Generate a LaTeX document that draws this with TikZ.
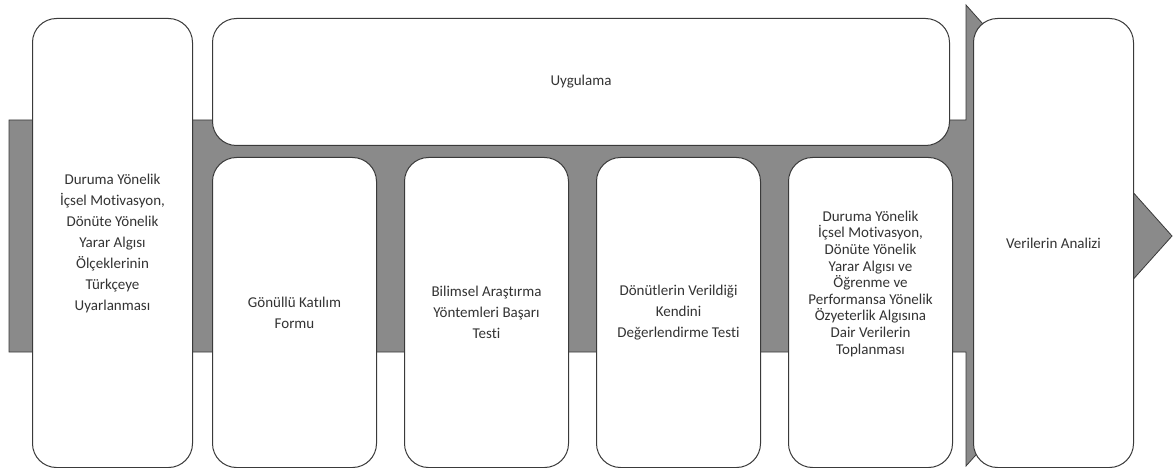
\documentclass[tikz,border=0pt]{standalone}
\usepackage{fontspec}
\setmainfont{Carlito}[Ligatures={NoCommon}]
\usepackage{tikz}
\usetikzlibrary{positioning}
\definecolor{bandgray}{HTML}{8A8A8A}
\definecolor{txtgray}{HTML}{333333}
\definecolor{edgegray}{HTML}{3A3A3A}

\begin{document}
\begin{tikzpicture}[x=1pt, y=-1pt,
  box/.style={rectangle, draw=edgegray, fill=white, line width=1pt, rounded corners=24pt, align=center, text=txtgray, inner sep=2pt, font=\fontsize{15}{21}\selectfont},
  tallbox/.style={box, minimum width=160pt, minimum height=449pt},
  stagebox/.style={box, minimum width=164pt, minimum height=310pt},
]
\useasboundingbox (0,0) rectangle (1173,468);

% Band with arrow head
\draw[draw=edgegray, fill=bandgray, line width=0.8pt] (9,120) -- (966,120) -- (966,5) -- (1172,236) -- (966,466) -- (966,352) -- (9,352) -- cycle;

% Steps
\node[tallbox, anchor=north west] (adapt) at (32,18) {Duruma Yönelik\\İçsel Motivasyon,\\Dönüte Yönelik\\Yarar Algısı\\Ölçeklerinin\\Türkçeye\\Uyarlanması};
\node[box, anchor=north west, minimum width=737pt, minimum height=127pt] (uyg) at (212,18) {Uygulama};
\node[stagebox, anchor=north west] (form) at (212,157) {Gönüllü Katılım\\Formu};
\node[stagebox, right=27pt of form] (test) {Bilimsel Araştırma\\Yöntemleri Başarı\\Testi};
\node[stagebox, right=27pt of test] (self) {Dönütlerin Verildiği\\Kendini\\Değerlendirme Testi};
\node[stagebox, right=27pt of self, font=\fontsize{15}{16.6}\selectfont] (collect) {Duruma Yönelik\\İçsel Motivasyon,\\Dönüte Yönelik\\Yarar Algısı ve\\Öğrenme ve\\Performansa Yönelik\\Özyeterlik Algısına\\Dair Verilerin\\Toplanması\rule[-60pt]{0pt}{60pt}};
\node[tallbox, anchor=north west] (analiz) at (973,18) {Verilerin Analizi};
\end{tikzpicture}
\end{document}
